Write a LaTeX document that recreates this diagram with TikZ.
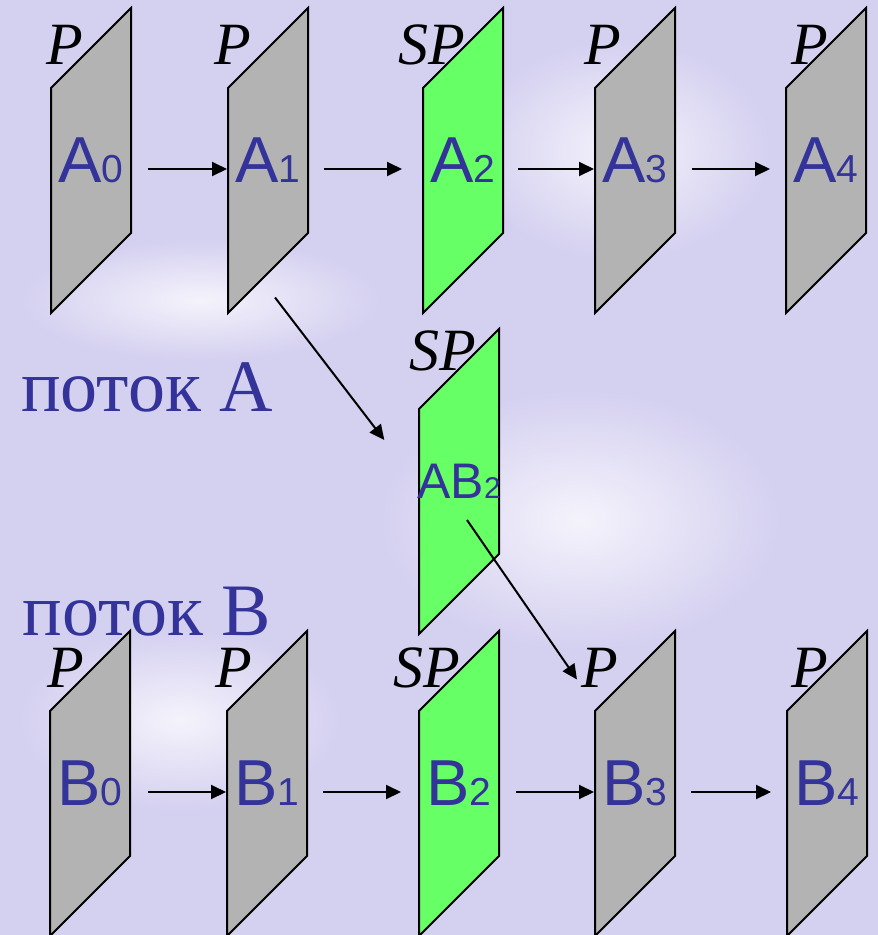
\documentclass[tikz,border=0pt]{standalone}
\usepackage{fontspec}
\setmainfont{Liberation Serif}
\newfontfamily\labelsans{Liberation Sans}
\usetikzlibrary{calc,arrows.meta}

\definecolor{bglav}{RGB}{212,208,240}
\definecolor{framegray}{RGB}{179,179,179}
\definecolor{spgreen}{RGB}{102,255,102}
\definecolor{labblue}{RGB}{51,51,153}

\newcommand{\idx}[1]{{\fontsize{39}{40}\selectfont #1}}
\newcommand{\idxs}[1]{{\fontsize{30}{32}\selectfont #1}}

\tikzset{
  frame/.style={minimum width=80pt, minimum height=305pt, inner sep=0pt,
    font=\labelsans\fontsize{65}{70}\selectfont, text=labblue},
  ftype/.style={font=\itshape\fontsize{60}{62}\selectfont, anchor=base, inner sep=0pt},
  stream/.style={font=\fontsize{74}{80}\selectfont, text=labblue,
    anchor=base west, inner sep=0pt},
  haze/.style={shading=radial, inner color=white!75!bglav, outer color=bglav}
}

\begin{document}
\begin{tikzpicture}[x=1pt, y=-1pt, line width=2pt,
  >={Triangle[length=15pt,width=14pt]}]

  \fill[bglav] (0,0) rectangle (878,935);
  \useasboundingbox (0,0) rectangle (878,935);
  % lighter patches of the backdrop
  \shade[haze] (580,520) ellipse (200 and 130);
  \shade[haze] (200,300) ellipse (180 and 60);
  \shade[haze] (620,150) ellipse (150 and 110);
  \shade[haze] (180,720) ellipse (160 and 90);

  \node[stream] (streamA) at (20,411) {поток A};
  \node[stream] (streamB) at (22,635) {поток B};

  % frames of both streams
  \foreach \n/\x/\t/\c/\lt/\d/\tp/\px in {
      A0/51/8/framegray/A/0/P/65, A1/228/8/framegray/A/1/P/233,
      A2/423/8/spgreen/A/2/SP/432, A3/595/8/framegray/A/3/P/603,
      A4/786/8/framegray/A/4/P/810,
      B0/50/631/framegray/B/0/P/66, B1/227/631/framegray/B/1/P/234,
      B2/419/631/spgreen/B/2/SP/427, B3/595/631/framegray/B/3/P/600,
      B4/787/631/framegray/B/4/P/810} {
      \draw[fill=\c] (\x+80,\t) -- (\x+80,\t+225) -- (\x,\t+305) -- (\x,\t+80) -- cycle;
      \node[frame] (\n) at (\x+40,\t+152) {\lt\idx{\d}};
      \node[ftype] (t\n) at (\px,\t+56) {\tp};
  }

  % switching frame
  \draw[fill=spgreen] (499,329) -- (499,554) -- (419,634) -- (419,409) -- cycle;
  \node[frame, font=\labelsans\fontsize{50}{54}\selectfont] (AB2) at (459,481) {AB\idxs{2}};
  \node[ftype] (tAB2) at (443,370) {SP};

  \foreach \a/\b/\s/\e in {A0/A1/16/0, A1/A2/15/20, A2/A3/14/0, A3/A4/16/15,
      B0/B1/17/0, B1/B2/15/17, B2/B3/16/0, B3/B4/15/15}
      \draw[->, shorten <=\s pt, shorten >=\e pt]
        ([yshift=-9pt]\a.east) -- ([yshift=-9pt]\b.west);

  \draw[->] ($(A1.south)+(7,-16)$) -- ($(AB2.west)+(-32,-41)$);
  \draw[->] ($(AB2.center)+(8,39)$) -- ($(B3.north west)+(-17,50)$);

\end{tikzpicture}
\end{document}
